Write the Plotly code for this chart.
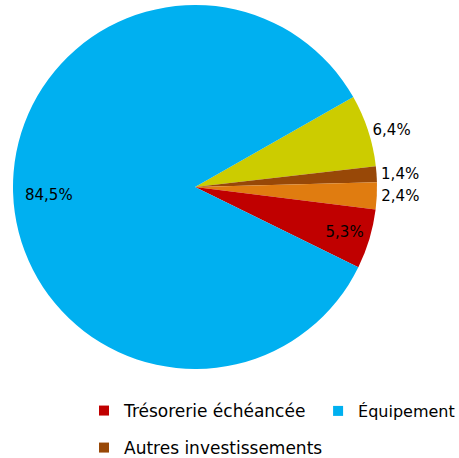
import math
import plotly.graph_objects as go

labels = ["Autre 1", "Autres investissements", "Autre 2", "Trésorerie échéancée", "Équipement"]
values = [6.4, 1.4, 2.4, 5.3, 84.5]
colors = ["#CCCC00", "#984807", "#E07C10", "#C00000", "#00B0F0"]
text_pos = ["outside", "outside", "outside", "inside", "inside"]

legend_rows = [["Trésorerie échéancée"], ["Équipement"], ["Autres investissements"]]

W, H = 459, 458
dom_x = [0.0283, 0.8214]
dom_y = [0.1943, 0.9891]
rotation = 60.4
big = values.index(max(values))

texttemplates = ["%{percent:.1%}" if i != big else "" for i in range(len(values))]

fig = go.Figure()
fig.add_trace(go.Pie(
    labels=labels, values=values, sort=False, direction="clockwise",
    rotation=rotation,
    marker=dict(colors=colors, line=dict(width=0)),
    texttemplate=texttemplates, textposition=text_pos,
    insidetextorientation="horizontal",
    textfont=dict(family="DejaVu Sans", size=15, color="#000000"),
    showlegend=False, hoverinfo="label+percent",
    domain=dict(x=dom_x, y=dom_y),
))

# label of the large slice placed along its mid-angle, derived from the data
total = sum(values)
start = sum(values[:big]) / total * 360.0
mid = rotation + start + values[big] / total * 360.0 / 2  # clockwise from 12 o'clock
cx = (dom_x[0] + dom_x[1]) / 2
cy = (dom_y[0] + dom_y[1]) / 2
R = (dom_x[1] - dom_x[0]) * W / 2
rr = 0.80 * R
ax = cx + rr * math.sin(math.radians(mid)) / W
ay = cy + rr * math.cos(math.radians(mid)) / H - 4 / H
fig.add_annotation(x=ax, y=ay, xref="paper", yref="paper", showarrow=False,
                   xanchor="center", yanchor="middle",
                   text=f"{values[big]:.1f}%".replace(".", ","),
                   font=dict(family="DejaVu Sans", size=15, color="#000000"))

color_of = dict(zip(labels, colors))
legend_names = ["legend", "legend2", "legend3"]
for lg, row in zip(legend_names, legend_rows):
    for name in row:
        fig.add_trace(go.Scatter(x=[None], y=[None], mode="markers", name=name,
                                 marker=dict(symbol="square", size=10, color=color_of[name]),
                                 legend=lg))

def legend_style(size):
    return dict(orientation="h", xanchor="left", yanchor="middle", itemwidth=30,
                font=dict(family="DejaVu Sans", size=size, color="#000000"),
                bgcolor="rgba(0,0,0,0)")

fig.update_layout(
    width=W, height=H,
    margin=dict(l=0, r=0, t=0, b=0, autoexpand=False),
    paper_bgcolor="white", plot_bgcolor="white",
    separators=", ",
    xaxis=dict(visible=False), yaxis=dict(visible=False),
    legend=dict(x=0.183, y=0.1026, **legend_style(17)),
    legend2=dict(x=0.693, y=0.1026, **legend_style(16)),
    legend3=dict(x=0.183, y=0.0218, **legend_style(17)),
)

fig.write_html("out.html", config={"displayModeBar": False},
               post_script="document.body.style.margin='0';document.body.style.overflow='hidden';")
